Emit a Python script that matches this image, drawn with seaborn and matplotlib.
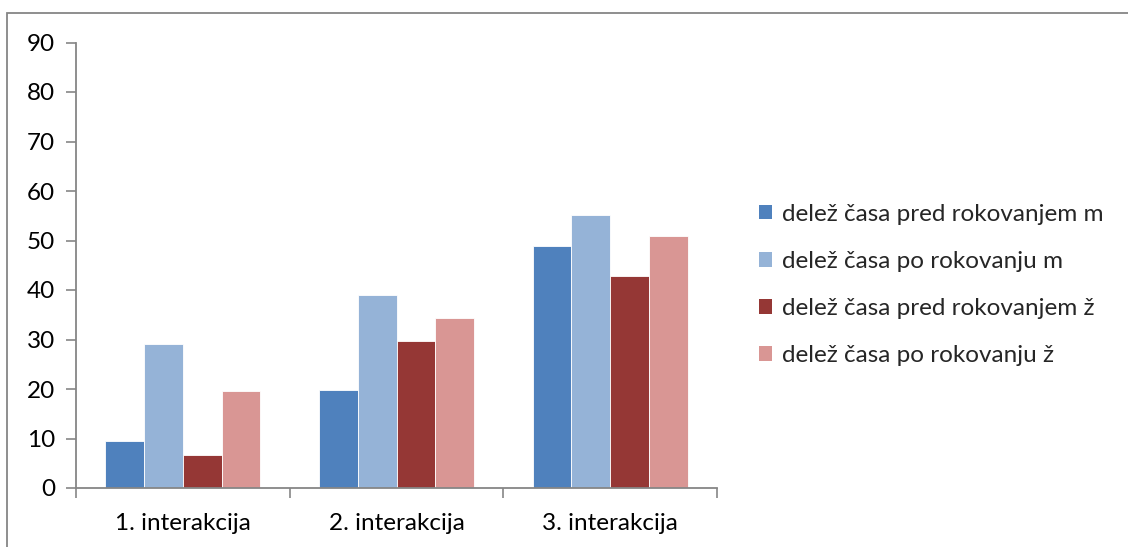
import matplotlib
matplotlib.use("Agg")
import matplotlib.pyplot as plt
from matplotlib.patches import Rectangle, Patch
import seaborn as sns
import pandas as pd

categories = ["1. interakcija", "2. interakcija", "3. interakcija"]
series_names = [
    "delež časa pred rokovanjem m",
    "delež časa po rokovanju m",
    "delež časa pred rokovanjem ž",
    "delež časa po rokovanju ž",
]
pred_m = [9.4, 19.8, 48.9]
po_m = [29.0, 39.0, 55.2]
pred_z = [6.6, 29.7, 42.9]
po_z = [19.6, 34.4, 51.0]
colors = ["#4F81BD", "#95B3D7", "#953735", "#D99694"]
y_ticks = list(range(0, 91, 10))

rows = []
for name, vals in zip(series_names, [pred_m, po_m, pred_z, po_z]):
    for cat, v in zip(categories, vals):
        rows.append({"kategorija": cat, "serija": name, "vrednost": v})
df = pd.DataFrame(rows)

sns.set_theme(style="white")
plt.rcParams["font.family"] = ["Lato", "DejaVu Sans"]
fs = 17.5

fig = plt.figure(figsize=(11.28, 5.47), dpi=100)
ax = fig.add_axes([76 / 1128, 1 - 488 / 547, (717 - 76) / 1128, (488 - 42.5) / 547])

sns.barplot(
    data=df, x="kategorija", y="vrednost", hue="serija",
    order=categories, hue_order=series_names, palette=colors, saturation=1,
    width=0.724, gap=0, ax=ax, legend=False,
    edgecolor="white", linewidth=0.6,
)

axis_color = "#868686"
ax.set_ylim(0, 90)
ax.set_xlim(-0.5, 2.5)
ax.set_yticks(y_ticks)
ax.set_xlabel("")
ax.set_ylabel("")
for side in ["top", "right"]:
    ax.spines[side].set_visible(False)
for side in ["left", "bottom"]:
    ax.spines[side].set_color(axis_color)
    ax.spines[side].set_linewidth(1.3)

ax.tick_params(axis="y", direction="out", length=7, width=1.2, color=axis_color,
               labelsize=fs, labelcolor="black", pad=8, left=True)
# category labels centred, tick marks at the category boundaries
ax.set_xticks([0, 1, 2])
ax.set_xticklabels(categories)
ax.tick_params(axis="x", which="major", length=0, labelsize=fs, labelcolor="black", pad=18)
ax.set_xticks([-0.5, 0.5, 1.5, 2.5], minor=True)
ax.tick_params(axis="x", which="minor", direction="out", length=7, width=1.2,
               color=axis_color, bottom=True)

handles = [Patch(facecolor=c, edgecolor="none") for c in colors]
fig.legend(
    handles, series_names, loc="center left",
    bbox_to_anchor=(749 / 1128, 1 - 285 / 547),
    frameon=False, fontsize=fs, handlelength=0.55, handleheight=0.55,
    handletextpad=0.4, labelspacing=1.08, borderaxespad=0,
)

# outer chart frame
fig.patches.append(Rectangle((7 / 1128, -0.05), 1.2, 1 - 13 / 547 + 0.05,
                             transform=fig.transFigure, fill=False,
                             edgecolor=axis_color, linewidth=1.3))

fig.savefig("out.png", dpi=100, facecolor="white")
